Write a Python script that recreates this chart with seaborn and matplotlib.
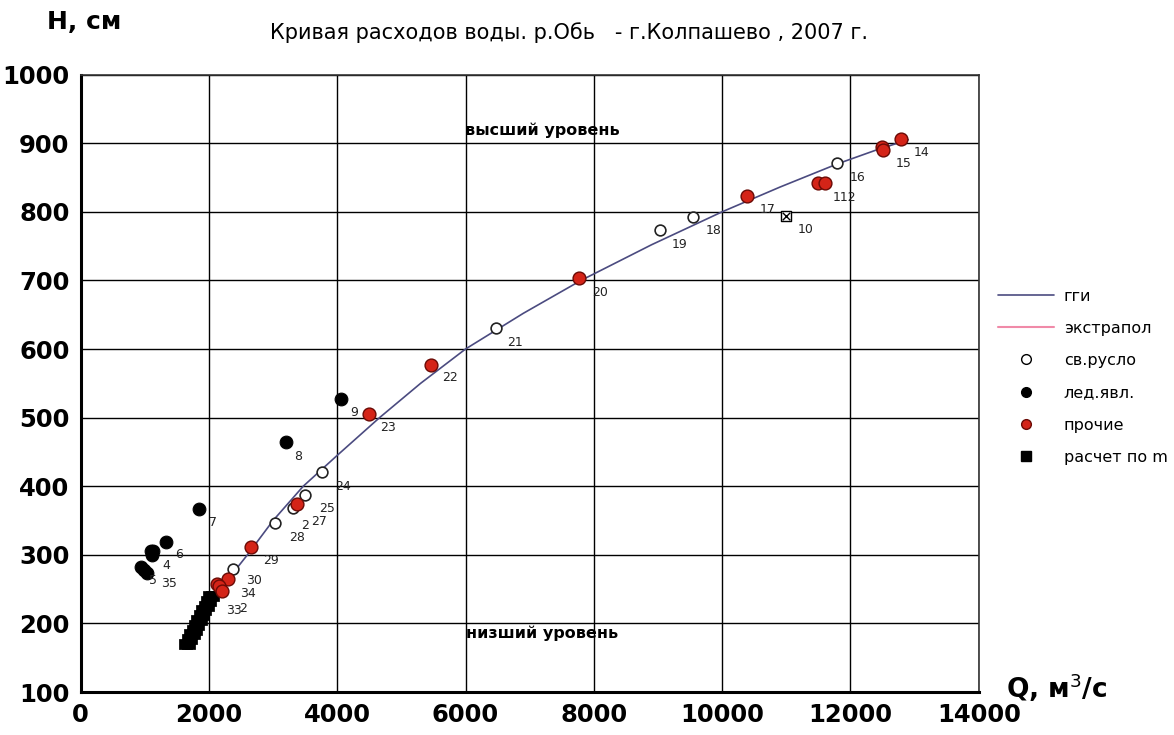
import matplotlib
matplotlib.use("Agg")
import matplotlib.pyplot as plt
from matplotlib.lines import Line2D
import seaborn as sns
import pandas as pd

# free channel points (open circles)
open_q = [6467, 9038, 9547, 11790, 3765, 3495, 3313, 3028, 2378]
open_h = [631, 773, 793, 871, 421, 387, 368, 347, 280]

# ice phenomena (black dots)
ice_q = [4052, 3195, 1848, 1324, 1091, 1131, 1110, 940, 990, 1028]
ice_h = [527, 465, 367, 319, 306, 305, 300, 282, 278, 274]

# other (red dots)
red_q = [7770, 5459, 4493, 10388, 11495, 11600, 12498, 12510, 12794, 3376, 2649, 2300, 2129, 2160, 2210]
red_h = [703, 577, 505, 823, 842, 842, 895, 890, 906, 374, 312, 264, 258, 255, 247]

# computed by m (black squares)
sq_q = [1618, 1655, 1690, 1728, 1770, 1802, 1845, 1876, 1918, 1950, 1992,
        1662, 1700, 1738, 1775, 1810, 1850, 1880, 1922, 1958, 1995, 2034,
        1702, 1735, 1778, 1812, 1845, 1888, 1925, 1960, 2000, 2035, 2072]
sq_h = [170, 177, 184, 191, 198, 205, 212, 219, 226, 233, 240,
        170, 177, 184, 191, 198, 205, 212, 219, 226, 233, 240,
        170, 177, 184, 191, 198, 205, 212, 219, 226, 233, 240]

# odd point №10
odd_q = [10988]
odd_h = [794]

# rating curve
curve_q = [2100, 2600, 3000, 3470, 4000, 4660, 5300, 6000, 6900, 7800, 8900, 10000, 10900, 11800, 12400, 12900]
curve_h = [241, 300, 350, 400, 445, 500, 550, 600, 652, 700, 752, 800, 836, 870, 890, 905]

# point numbers
lab_text = ["5", "35", "4", "6", "7", "8", "9", "23", "22", "21", "20", "19", "18", "17", "10",
            "112", "16", "15", "14", "24", "25", "27", "2", "28", "29", "30", "34", "33", "2"]
lab_q = [1060, 1250, 1278, 1480, 2000, 3324, 4197, 4664, 5630, 6654, 7973, 9219, 9745, 10586, 11183,
         11728, 11988, 12706, 12986, 3963, 3720, 3600, 3440, 3250, 2846, 2576, 2480, 2260, 2470]
lab_h = [262, 258, 285, 300, 347, 444, 507, 485, 558, 610, 683, 753, 773, 803, 774,
         821, 850, 871, 887, 400, 368, 349, 343, 325, 292, 263, 243, 219, 222]

x_ticks = [0, 2000, 4000, 6000, 8000, 10000, 12000, 14000]
y_ticks = [100, 200, 300, 400, 500, 600, 700, 800, 900, 1000]

sns.set_style("white")
plt.rcParams["font.family"] = ["DejaVu Sans"]
plt.rcParams["text.color"] = "black"
plt.rcParams["xtick.color"] = "black"
plt.rcParams["ytick.color"] = "black"

fig = plt.figure(figsize=(11.74, 7.35), dpi=100)
ax = fig.add_axes([0.0687, 0.0585, 0.765, 0.84])

curve = pd.DataFrame({"q": curve_q, "h": curve_h})
sns.lineplot(data=curve, x="q", y="h", sort=False, color="#4b4b80", lw=1.2, ax=ax, zorder=3)

sns.scatterplot(x=sq_q, y=sq_h, marker="s", s=45, color="black", edgecolor="black", ax=ax, zorder=4)
sns.scatterplot(x=ice_q, y=ice_h, marker="o", s=85, color="black", edgecolor="black", ax=ax, zorder=4)
sns.scatterplot(x=open_q, y=open_h, marker="o", s=60, facecolor="white", edgecolor="#222222",
                linewidth=1.2, ax=ax, zorder=5)
sns.scatterplot(x=red_q, y=red_h, marker="o", s=85, color="#d42418", edgecolor="#6a0a05",
                linewidth=1.0, ax=ax, zorder=5)
sns.scatterplot(x=odd_q, y=odd_h, marker="s", s=50, facecolor="white", edgecolor="black", linewidth=1, ax=ax, zorder=5)
sns.scatterplot(x=odd_q, y=odd_h, marker="x", s=30, color="black", linewidth=1, ax=ax, zorder=6)

for t, q, h in zip(lab_text, lab_q, lab_h):
    ax.text(q, h, t, fontsize=9, color="#222222", ha="left", va="center", zorder=6)

ax.text(7200, 919, "высший уровень", fontsize=11.5, ha="center", va="center", fontweight="bold")
ax.text(7200, 185, "низший уровень", fontsize=11.5, ha="center", va="center", fontweight="bold")

ax.set_xlim(0, 14000)
ax.set_ylim(100, 1000)
ax.set_xticks(x_ticks)
ax.set_yticks(y_ticks)
ax.grid(True, color="black", lw=1.0)
ax.set_axisbelow(True)
for s in ax.spines.values():
    s.set_color("#333333")
    s.set_linewidth(1.2)
ax.spines["left"].set_linewidth(2.2)
ax.spines["bottom"].set_linewidth(2.2)
ax.spines["left"].set_color("black")
ax.spines["bottom"].set_color("black")
ax.tick_params(axis="both", direction="out", length=5, width=1.2, labelsize=17.5, pad=3)
for lbl in ax.get_xticklabels() + ax.get_yticklabels():
    lbl.set_fontweight("bold")
ax.set_xlabel("")
ax.set_ylabel("")

fig.text(0.04, 0.97, "Н, см", fontsize=18, fontweight="bold", ha="left", va="center")
fig.text(0.485, 0.955, "Кривая расходов воды. р.Обь   - г.Колпашево , 2007 г.", fontsize=15,
         ha="center", va="center")
fig.text(0.857, 0.064, "Q, м$^3$/с", fontsize=19, fontweight="bold", ha="left", va="center")

handles = [
    Line2D([0], [0], color="#4b4b80", lw=1.2),
    Line2D([0], [0], color="#f08aa8", lw=1.5),
    Line2D([0], [0], marker="o", ls="", markerfacecolor="white", markeredgecolor="black", markersize=7),
    Line2D([0], [0], marker="o", ls="", color="black", markersize=7),
    Line2D([0], [0], marker="o", ls="", markerfacecolor="#d42418", markeredgecolor="#6a0a05", markersize=7),
    Line2D([0], [0], marker="s", ls="", color="black", markersize=7),
]
names = ["гги", "экстрапол", "св.русло", "лед.явл.", "прочие", "расчет по m"]
fig.legend(handles, names, loc="upper left", bbox_to_anchor=(0.838, 0.627), frameon=False,
           fontsize=11.5, handlelength=3.5, labelspacing=1.08, handletextpad=0.6)

fig.savefig("out.png", dpi=100)
